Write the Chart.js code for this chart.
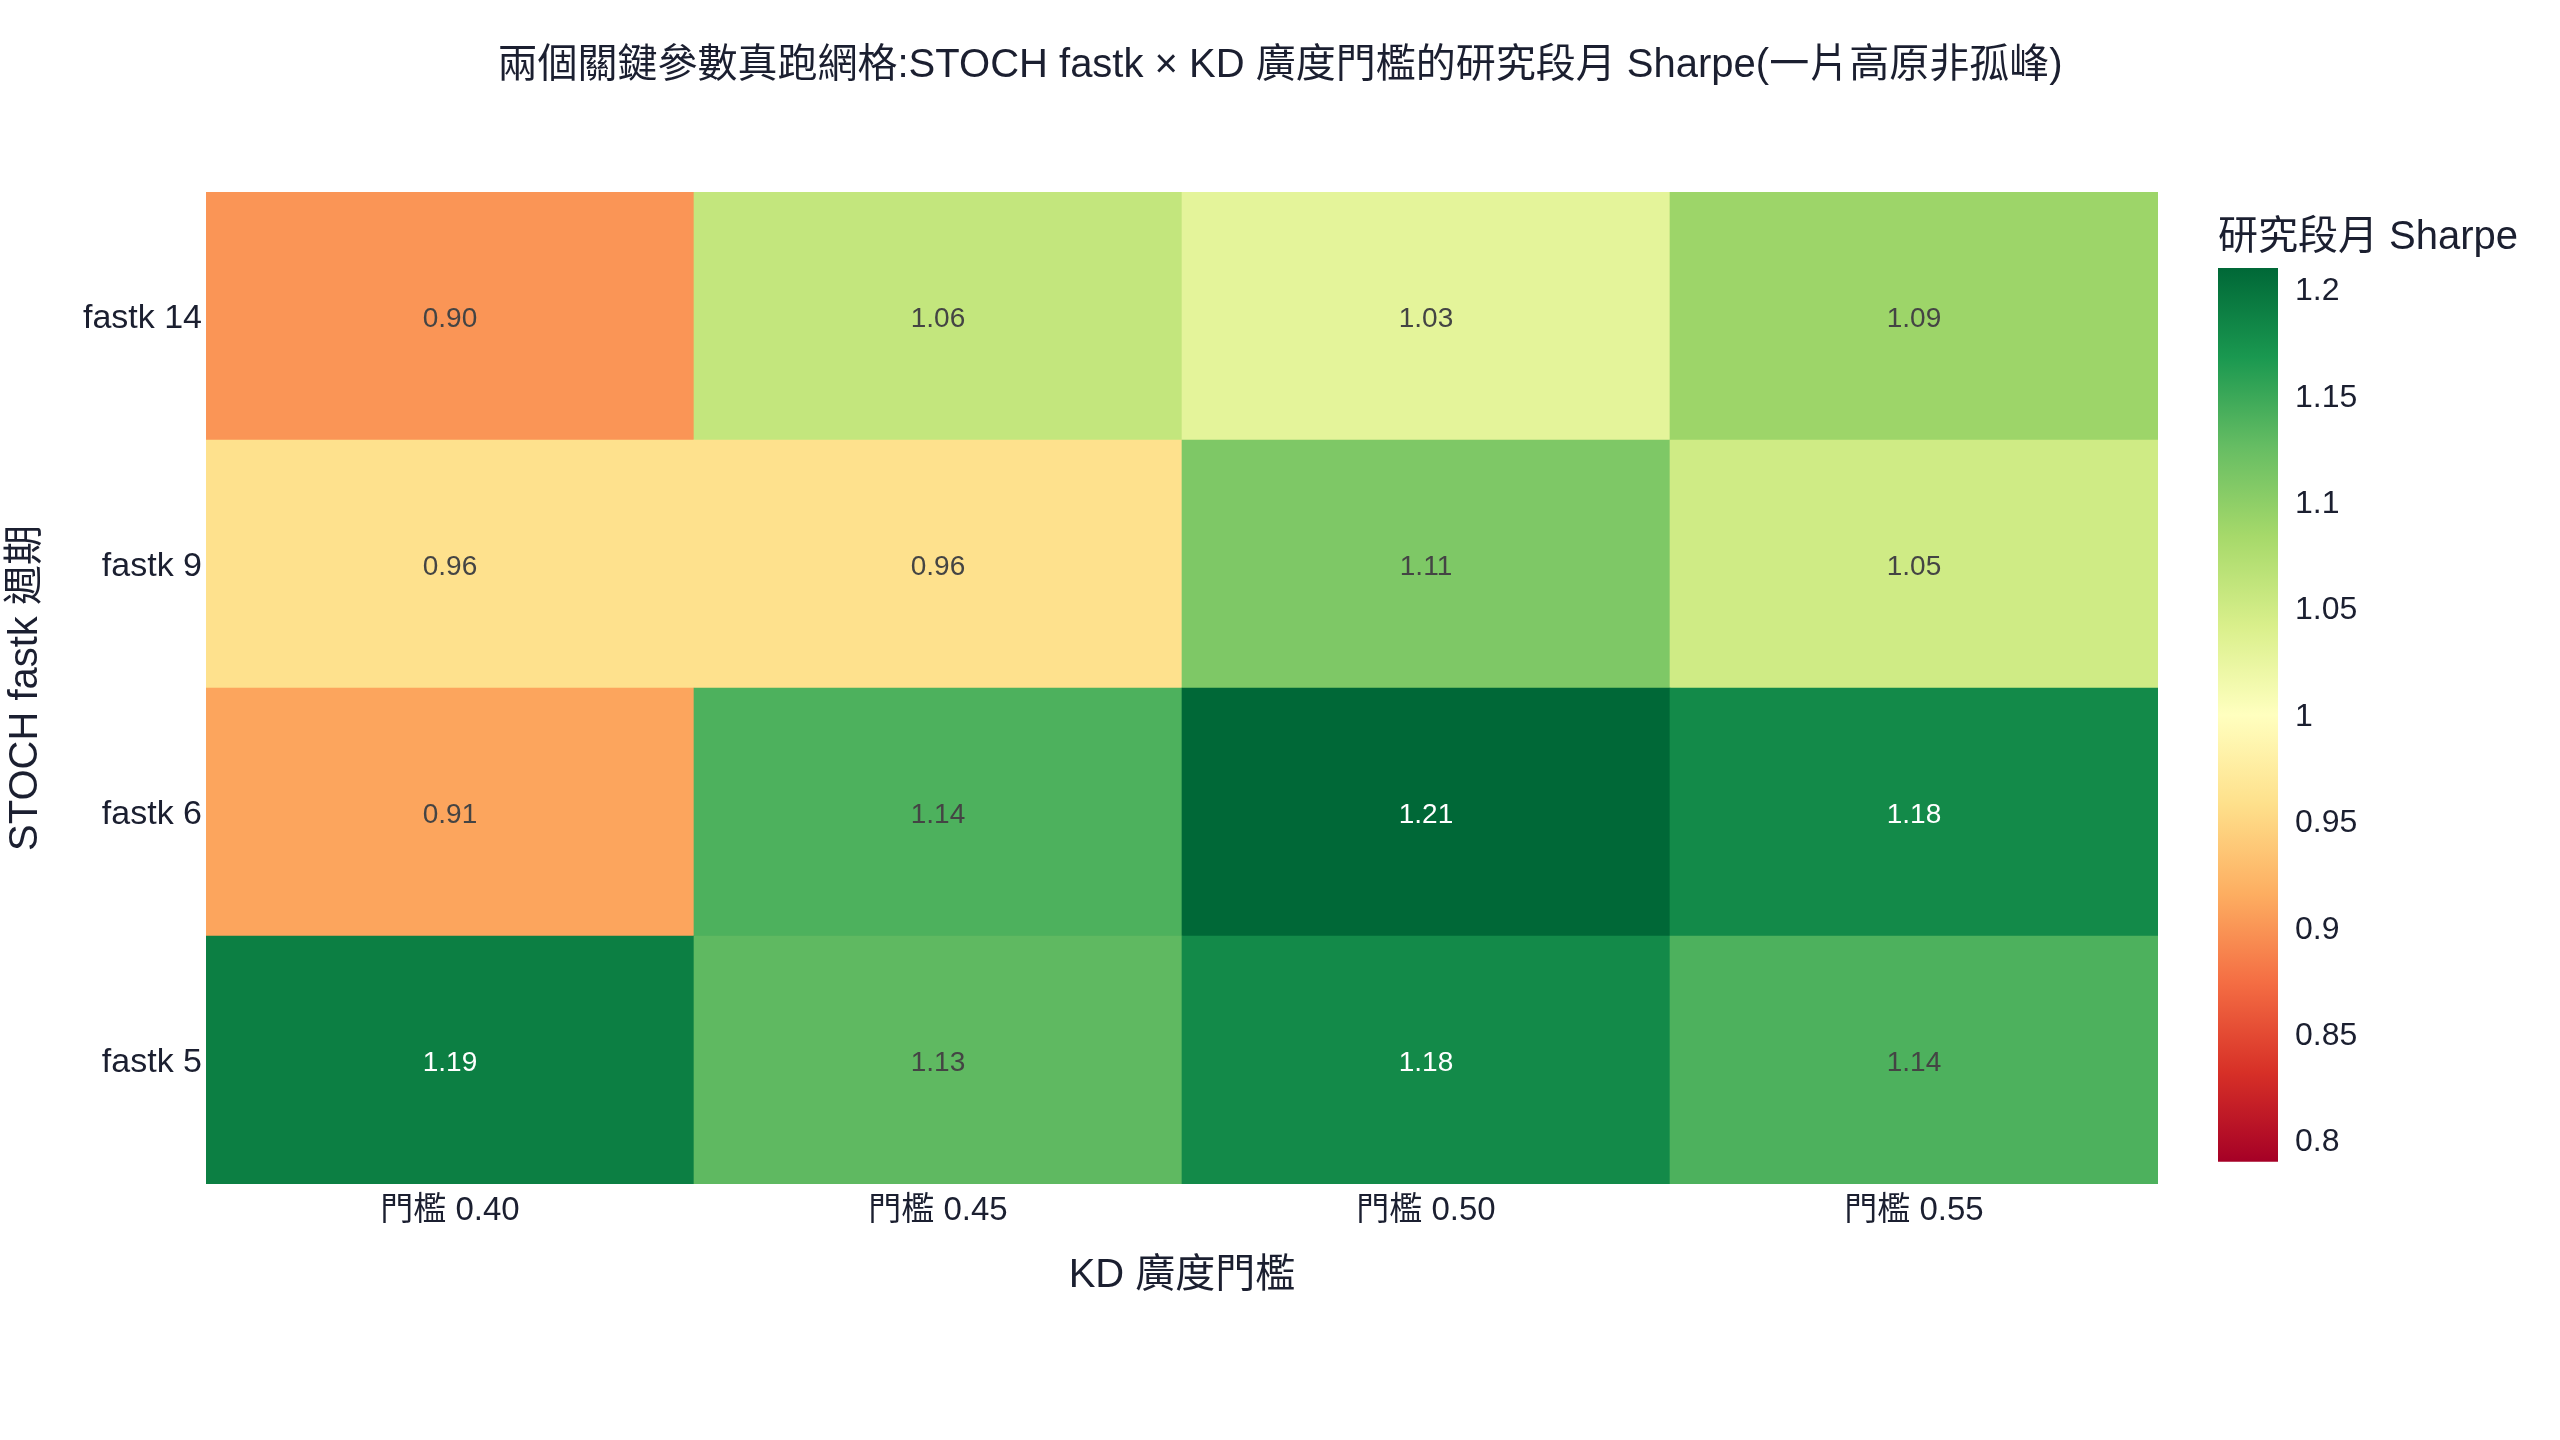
<!DOCTYPE html>
<html>
<head>
<meta charset="utf-8">
<script src="https://cdn.jsdelivr.net/npm/chart.js@4.4.1/dist/chart.umd.min.js"></script>
<style>
html,body{margin:0;padding:0;background:#ffffff;}
#wrap{position:relative;width:2560px;height:1440px;background:#ffffff;}
#main{position:absolute;left:0;top:0;width:2560px;height:1440px;}
#cbar{position:absolute;left:2218px;top:190px;width:342px;height:1000px;}
</style>
</head>
<body>
<div id="wrap">
<canvas id="main" width="2560" height="1440"></canvas>
<canvas id="cbar" width="342" height="1000"></canvas>
</div>
<script>
// ---- data ----
const chartTitle = '兩個關鍵參數真跑網格:STOCH fastk × KD 廣度門檻的研究段月 Sharpe(一片高原非孤峰)';
const xAxisTitle = 'KD 廣度門檻';
const yAxisTitle = 'STOCH fastk 週期';
const colorbarTitle = '研究段月 Sharpe';
const thresholdLabels = ['門檻 0.40', '門檻 0.45', '門檻 0.50', '門檻 0.55'];
const fastkLabels = ['fastk 5', 'fastk 6', 'fastk 9', 'fastk 14']; // bottom to top
const sharpeFastk5 = [1.19, 1.13, 1.18, 1.14];
const sharpeFastk6 = [0.91, 1.14, 1.21, 1.18];
const sharpeFastk9 = [0.96, 0.96, 1.11, 1.05];
const sharpeFastk14 = [0.90, 1.06, 1.03, 1.09];
const sharpeRows = [sharpeFastk5, sharpeFastk6, sharpeFastk9, sharpeFastk14];
const colorbarTicks = [0.8, 0.85, 0.9, 0.95, 1, 1.05, 1.1, 1.15, 1.2];
const zMin = 0.79;
const zMax = 1.21;

// ---- styles ----
const FONT = "'Liberation Sans', 'Noto Sans CJK TC', 'Noto Sans CJK SC', sans-serif";
const TXT = '#1b1f30';
const RdYlGn = [
  [165,0,38],[215,48,39],[244,109,67],[253,174,97],[254,224,139],
  [255,255,191],[217,239,139],[166,217,106],[102,189,99],[26,152,80],[0,104,55]
];

function rgbFor(v) {
  let t = (v - zMin) / (zMax - zMin);
  t = Math.max(0, Math.min(1, t));
  const p = t * 10;
  const i = Math.min(9, Math.floor(p));
  const f = p - i;
  const a = RdYlGn[i], b = RdYlGn[i + 1];
  return [0,1,2].map(k => Math.round(a[k] + (b[k] - a[k]) * f));
}
function colorFor(v) { const c = rgbFor(v); return `rgb(${c[0]},${c[1]},${c[2]})`; }
function textColorFor(v) {
  const c = rgbFor(v);
  const br = (c[0] * 299 + c[1] * 587 + c[2] * 114) / 1000;
  return br >= 128 ? '#444444' : '#ffffff';
}

const cellText = {
  id: 'cellText',
  afterDatasetsDraw(chart) {
    const ctx = chart.ctx;
    ctx.save();
    ctx.font = `28px ${FONT}`;
    ctx.textAlign = 'center';
    ctx.textBaseline = 'middle';
    chart.data.datasets.forEach((ds, i) => {
      const meta = chart.getDatasetMeta(i);
      meta.data.forEach((el, j) => {
        const v = ds.sharpe[j];
        ctx.fillStyle = textColorFor(v);
        ctx.fillText(v.toFixed(2), el.x, (el.y + el.base) / 2 + 3);
      });
    });
    ctx.restore();
  }
};

function build() {
  new Chart(document.getElementById('main'), {
    type: 'bar',
    data: {
      labels: thresholdLabels,
      datasets: sharpeRows.map((vals, r) => ({
        label: fastkLabels[r],
        data: vals.map(() => [r, r + 1]),
        sharpe: vals,
        backgroundColor: vals.map(colorFor),
        borderWidth: 0,
        borderSkipped: false,
        barPercentage: 1,
        categoryPercentage: 1,
        grouped: false
      }))
    },
    options: {
      responsive: false,
      devicePixelRatio: 1,
      animation: false,
      layout: { padding: 0 },
      plugins: {
        legend: { display: false },
        tooltip: { enabled: false },
        title: {
          display: true,
          text: chartTitle,
          color: TXT,
          font: { size: 40, family: FONT, weight: 'normal' },
          padding: { top: 42, bottom: 102 }
        }
      },
      scales: {
        x: {
          type: 'category',
          grid: { display: false, drawTicks: false },
          border: { display: false },
          ticks: { color: TXT, font: { size: 33, family: FONT }, padding: 7, maxRotation: 0 },
          afterFit: s => { s.height = 256; },
          title: {
            display: true, text: xAxisTitle, color: TXT,
            font: { size: 40, family: FONT }, padding: { top: 0, bottom: 140 }
          }
        },
        y: {
          type: 'linear',
          position: 'left',
          min: 0,
          max: fastkLabels.length,
          grid: { display: false, drawTicks: false },
          border: { display: false },
          afterBuildTicks: s => { s.ticks = fastkLabels.map((_, i) => ({ value: i + 0.5 })); },
          afterFit: s => { s.width = 206; },
          ticks: {
            color: TXT, font: { size: 34, family: FONT }, padding: 4,
            autoSkip: false, labelOffset: 3,
            callback: v => fastkLabels[Math.floor(v)]
          },
          title: {
            display: true, text: yAxisTitle, color: TXT,
            font: { size: 40, family: FONT }, padding: { top: 2, bottom: 0 }
          }
        },
        rightSpace: {
          type: 'linear',
          position: 'right',
          display: true,
          grid: { display: false, drawTicks: false },
          border: { display: false },
          ticks: { display: false },
          afterFit: s => { s.width = 402; }
        }
      }
    },
    plugins: [cellText]
  });

  new Chart(document.getElementById('cbar'), {
    type: 'bar',
    data: {
      labels: [''],
      datasets: [{
        data: [[zMin, zMax]],
        backgroundColor: (c) => {
          const ch = c.chart;
          const ys = ch.scales.y;
          if (!ys || !ch.chartArea) return colorFor(1);
          const g = ch.ctx.createLinearGradient(0, ys.getPixelForValue(zMin), 0, ys.getPixelForValue(zMax));
          RdYlGn.forEach((col, i) => g.addColorStop(i / 10, `rgb(${col[0]},${col[1]},${col[2]})`));
          return g;
        },
        borderWidth: 0,
        borderSkipped: false,
        barPercentage: 1,
        categoryPercentage: 1
      }]
    },
    options: {
      responsive: false,
      devicePixelRatio: 1,
      animation: false,
      layout: { padding: { left: 0, right: 0, top: 0, bottom: 26 } },
      plugins: {
        legend: { display: false },
        tooltip: { enabled: false },
        title: {
          display: true,
          text: colorbarTitle,
          align: 'start',
          color: TXT,
          font: { size: 40, family: FONT, weight: 'normal' },
          padding: { top: 24, bottom: 6 }
        }
      },
      scales: {
        x: { display: false },
        y: {
          position: 'right',
          min: zMin,
          max: zMax,
          grid: { display: false },
          border: { display: false },
          afterBuildTicks: s => { s.ticks = colorbarTicks.map(v => ({ value: v })); },
          afterFit: s => { s.width = 282; },
          ticks: {
            color: TXT, font: { size: 32, family: FONT }, padding: 9, autoSkip: false,
            labelOffset: 2,
            callback: v => String(Math.round(v * 100) / 100)
          }
        }
      }
    }
  });
}

const fontLoads = [
  document.fonts.load(`40px 'Liberation Sans'`, 'STOCH'),
  document.fonts.load(`40px 'Noto Sans CJK TC'`, '兩個關鍵')
];
Promise.race([
  Promise.all(fontLoads),
  new Promise(res => setTimeout(res, 1500))
]).then(build, build);
</script>
</body>
</html>
